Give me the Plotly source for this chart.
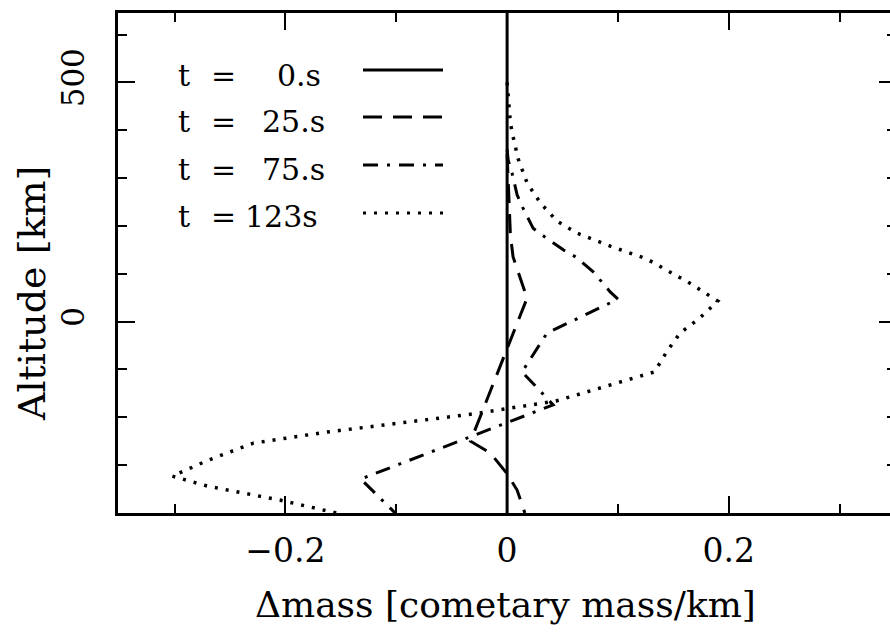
import plotly.graph_objects as go

# ---- data ----
alt_t0 = [-400, 650]
dm_t0 = [0.0, 0.0]

alt_t25 = [350, 250, 180, 135, 49, -250, -275, -318, -352, -400]
dm_t25 = [0.0, 0.002, 0.003, 0.0054, 0.018, -0.033, -0.015, 0.0, 0.009, 0.016]

alt_t75 = [360, 337, 310, 265, 237, 195, 177, 150, 135, 104, 62, 47, -24, -105, -174, -329, -400]
dm_t75 = [0.0, 0.001, 0.0045, 0.009, 0.0144, 0.0235, 0.034, 0.0506, 0.062, 0.0777, 0.093, 0.100,
          0.036, 0.0135, 0.0415, -0.132, -0.101]

alt_t123 = [500, 415, 390, 340, 290, 248, 210, 185, 156, 131, 80, 43, 8, -24, -63, -105, -166,
            -193, -231, -254, -290, -323, -344, -373, -400]
dm_t123 = [0.0, 0.003, 0.005, 0.010, 0.018, 0.030, 0.045, 0.063, 0.095, 0.126, 0.165, 0.190,
           0.174, 0.156, 0.144, 0.133, 0.044, -0.031, -0.163, -0.229, -0.27, -0.302, -0.27,
           -0.205, -0.154]

legend_values = ["0.s", "25.s", "75.s", "123s"]
x_major = [-0.2, 0, 0.2]
x_major_labels = ["\u22120.2", "0", "0.2"]
x_minor = [-0.3, -0.1, 0.1, 0.3]
y_major = [0, 500]
y_minor = [-300, -200, -100, 100, 200, 300, 400, 600]

FONT = "DejaVu Serif"
# the reference frame's right edge lies just outside the 890px picture
W, H = 894, 639
L, R, T, B = 118, 0, 13, 126
XR = [-0.351, 0.349]
YR = [-400, 645]

dashes = ["solid", "19px,11px", "15px,9px,3px,9px", "3px,8px"]
widths = [3, 3, 3, 3.5]
series = [(dm_t0, alt_t0), (dm_t25, alt_t25), (dm_t75, alt_t75), (dm_t123, alt_t123)]

fig = go.Figure()
for (xs, ys), d, w in zip(series, dashes, widths):
    fig.add_trace(go.Scatter(x=xs, y=ys, mode="lines",
                             line=dict(color="black", width=w, dash=d),
                             showlegend=False, hoverinfo="skip"))
# invisible trace so the top/right tick axes are drawn
fig.add_trace(go.Scatter(x=[0], y=[0], xaxis="x2", yaxis="y2", mode="markers",
                         marker=dict(opacity=0), showlegend=False, hoverinfo="skip"))

pw = W - L - R
ph = H - T - B


def px_x(px):
    return (px - L) / pw


def px_y(py):
    return (T + ph - py) / ph


fig.update_layout(
    width=W, height=H,
    margin=dict(l=L, r=R, t=T, b=B, pad=0),
    paper_bgcolor="white", plot_bgcolor="white",
    font=dict(family=FONT, color="black"),
    xaxis=dict(range=XR, showgrid=False, zeroline=False, showline=True, linecolor="black",
               linewidth=3, mirror=False, ticks="inside", tickvals=x_major,
               ticktext=x_major_labels, ticklen=17, tickwidth=2, tickcolor="black",
               tickfont=dict(size=33, family=FONT), ticklabelstandoff=6,
               minor=dict(tickvals=x_minor, ticks="inside", ticklen=9, tickwidth=2,
                          tickcolor="black")),
    yaxis=dict(range=YR, showgrid=False, zeroline=False, showline=True, linecolor="black",
               linewidth=3, mirror=False, ticks="inside", tickvals=y_major, ticklen=17,
               tickwidth=2, tickcolor="black", tickangle=-90,
               tickfont=dict(size=31, family=FONT), ticklabelstandoff=19,
               minor=dict(tickvals=y_minor, ticks="inside", ticklen=9, tickwidth=2,
                          tickcolor="black")),
    xaxis2=dict(range=XR, overlaying="x", side="top", anchor="y", showgrid=False, zeroline=False,
                showline=True, linecolor="black", linewidth=3, mirror=False,
                ticks="inside", tickvals=x_major, ticklen=17, tickwidth=2,
                tickcolor="black", showticklabels=False,
                minor=dict(tickvals=x_minor, ticks="inside", ticklen=9, tickwidth=2,
                           tickcolor="black")),
    yaxis2=dict(range=YR, overlaying="y", side="right", anchor="x", showgrid=False,
                zeroline=False, showline=False, mirror=False,
                ticks="inside", tickvals=y_major, ticklen=15, tickwidth=2,
                tickcolor="black", showticklabels=False,
                minor=dict(tickvals=y_minor, ticks="inside", ticklen=7, tickwidth=2,
                           tickcolor="black")),
)

annotations = []
# axis titles
annotations.append(dict(text="\u0394mass [cometary mass/km]", xref="paper", yref="paper",
                        x=px_x(505), y=px_y(604), xanchor="center", yanchor="middle",
                        showarrow=False, font=dict(size=36, family=FONT)))
annotations.append(dict(text="Altitude [km]", xref="paper", yref="paper",
                        x=px_x(32), y=px_y(294), xanchor="center", yanchor="middle",
                        textangle=-90, showarrow=False, font=dict(size=38, family=FONT)))

# legend (text on the left, line sample on the right)
row_text_y = [75, 122, 169, 216]
row_line_y = [70, 117, 165, 213]
val_right = [323, 327, 327, 320]
shapes = []
for i, val in enumerate(legend_values):
    annotations.append(dict(text="t", xref="paper", yref="paper", x=px_x(176), y=px_y(row_text_y[i]),
                            xanchor="left", yanchor="middle", showarrow=False,
                            font=dict(size=30, family=FONT)))
    annotations.append(dict(text="=", xref="paper", yref="paper", x=px_x(209), y=px_y(row_text_y[i]),
                            xanchor="left", yanchor="middle", showarrow=False,
                            font=dict(size=30, family=FONT)))
    annotations.append(dict(text=val, xref="paper", yref="paper", x=px_x(val_right[i]),
                            y=px_y(row_text_y[i]), xanchor="right", yanchor="middle",
                            showarrow=False, font=dict(size=30, family=FONT)))
    shapes.append(dict(type="line", xref="paper", yref="paper",
                       x0=px_x(363), x1=px_x(443), y0=px_y(row_line_y[i]), y1=px_y(row_line_y[i]),
                       line=dict(color="black", width=3, dash=dashes[i])))

fig.update_layout(annotations=annotations, shapes=shapes)

fig.write_html(
    "out.html",
    post_script="document.documentElement.style.overflow='hidden';"
                "document.body.style.overflow='hidden';document.body.style.margin='0';",
)
